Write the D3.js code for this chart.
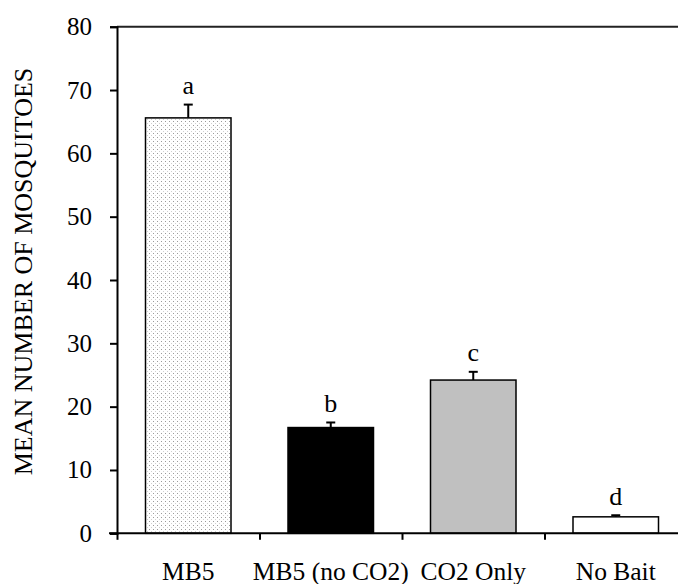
<!DOCTYPE html>
<html>
<head>
<meta charset="utf-8">
<script src="https://cdn.jsdelivr.net/npm/d3@7"></script>
<style>
    body { margin: 0; background: #fff; }
    svg text { font-family: "Liberation Serif", "Times New Roman", serif; fill: #000; }
</style>
</head>
<body>
<svg></svg>
<script>
var categories = ["MB5", "MB5 (no CO2)", "CO2 Only", "No Bait"];
var means = [65.6, 16.7, 24.2, 2.6];
var errors = [2.1, 0.8, 1.3, 0.25];
var letters = ["a", "b", "c", "d"];
var fills = ["url(#dots)", "#000000", "#c0c0c0", "#ffffff"];
var yTicks = [0, 10, 20, 30, 40, 50, 60, 70, 80];

var width = 678;
var height = 584;

var svg = d3.select("svg").attr("width", width).attr("height", height);

// dotted fill for first bar
var pat = svg.append("defs").append("pattern")
    .attr("id", "dots")
    .attr("patternUnits", "userSpaceOnUse")
    .attr("width", 4)
    .attr("height", 4);
pat.append("rect").attr("width", 4).attr("height", 4).attr("fill", "#ffffff");
pat.append("rect").attr("x", 1).attr("y", 1).attr("width", 1).attr("height", 1).attr("fill", "#9a9a9a");
pat.append("rect").attr("x", 3).attr("y", 3).attr("width", 1).attr("height", 1).attr("fill", "#d0d0d0");

var plotLeft = 117, plotRight = 687, plotTop = 26.7, plotBottom = 533.3;

var y = d3.scaleLinear().domain([0, 80]).range([plotBottom, plotTop]);

var x = d3.scaleBand()
    .domain(categories)
    .range([plotLeft, plotRight])
    .paddingInner(0.4)
    .paddingOuter(0.2);

var xEdge = d3.scaleLinear().domain([0, categories.length]).range([plotLeft, plotRight]);

// frame top line
svg.append("line")
    .attr("x1", plotLeft).attr("x2", plotRight)
    .attr("y1", plotTop).attr("y2", plotTop)
    .attr("stroke", "#222").attr("stroke-width", 2);

// bars
var bars = svg.selectAll(".bar")
    .data(categories)
    .enter()
    .append("g")
    .attr("class", "bar");

bars.append("line")
    .attr("x1", function (d) { return x(d) + x.bandwidth() / 2; })
    .attr("x2", function (d) { return x(d) + x.bandwidth() / 2; })
    .attr("y1", function (d, i) { return y(means[i]); })
    .attr("y2", function (d, i) { return y(means[i] + errors[i]); })
    .attr("stroke", "#000").attr("stroke-width", 2);

bars.append("line")
    .attr("x1", function (d) { return x(d) + x.bandwidth() / 2 - 4.5; })
    .attr("x2", function (d) { return x(d) + x.bandwidth() / 2 + 4.5; })
    .attr("y1", function (d, i) { return y(means[i] + errors[i]); })
    .attr("y2", function (d, i) { return y(means[i] + errors[i]); })
    .attr("stroke", "#000").attr("stroke-width", 2);

bars.append("rect")
    .attr("x", function (d) { return x(d); })
    .attr("y", function (d, i) { return y(means[i]); })
    .attr("width", x.bandwidth())
    .attr("height", function (d, i) { return y(0) - y(means[i]); })
    .attr("fill", function (d, i) { return fills[i]; })
    .attr("stroke", "#000")
    .attr("stroke-width", 1.5);

bars.append("text")
    .attr("x", function (d) { return x(d) + x.bandwidth() / 2; })
    .attr("y", function (d, i) { return y(means[i] + errors[i]) - 10.5; })
    .attr("text-anchor", "middle")
    .style("font-size", "26px")
    .text(function (d, i) { return letters[i]; });

// y axis
var yAxis = svg.append("g")
    .attr("transform", "translate(" + plotLeft + ",0)")
    .call(d3.axisLeft(y).tickValues(yTicks).tickSize(7).tickPadding(18));
yAxis.select(".domain").attr("stroke", "#000").attr("stroke-width", 2);
yAxis.selectAll(".tick line").attr("stroke", "#000").attr("stroke-width", 2);
yAxis.selectAll(".tick text").style("font-size", "25px")
    .style("font-family", "'Liberation Serif', 'Times New Roman', serif");

// x axis: ticks between categories
var xAxis = svg.append("g")
    .attr("transform", "translate(0," + plotBottom + ")")
    .call(d3.axisBottom(xEdge).tickValues(d3.range(categories.length)).tickSize(6.5).tickFormat(""));
xAxis.select(".domain").remove();
xAxis.selectAll(".tick line").attr("stroke", "#000").attr("stroke-width", 2);
xAxis.append("line")
    .attr("x1", 109).attr("x2", width)
    .attr("y1", 0).attr("y2", 0)
    .attr("stroke", "#000").attr("stroke-width", 2);

svg.selectAll(".cat")
    .data(categories)
    .enter()
    .append("text")
    .attr("class", "cat")
    .attr("x", function (d) { return x(d) + x.bandwidth() / 2; })
    .attr("y", 580)
    .attr("text-anchor", "middle")
    .style("font-size", "25.5px")
    .text(function (d) { return d; });

svg.append("text")
    .attr("transform", "translate(31.5,271.5) rotate(-90)")
    .attr("text-anchor", "middle")
    .style("font-size", "26px")
    .text("MEAN NUMBER OF MOSQUITOES");
</script>
</body>
</html>
